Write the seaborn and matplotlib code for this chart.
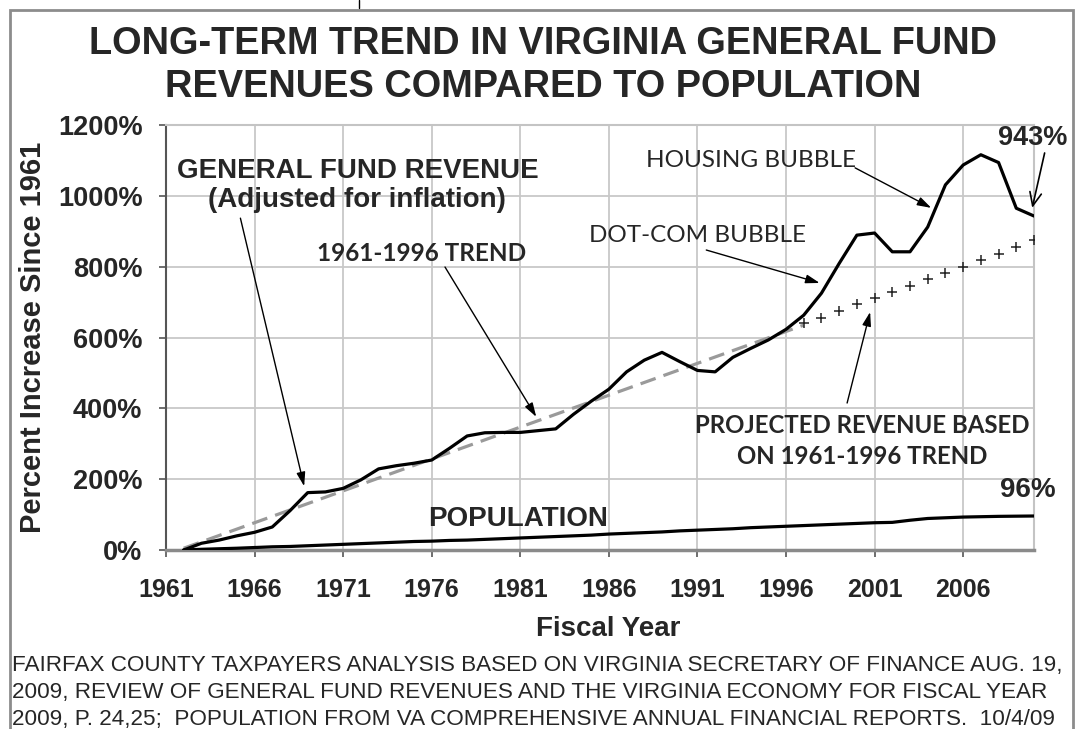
import numpy as np
import pandas as pd
import matplotlib.pyplot as plt
import seaborn as sns
from matplotlib.patches import Rectangle
from matplotlib.lines import Line2D


years = list(range(1961, 2010))

revenue_pct = [0, 19, 28, 40, 50, 65, 111, 162, 164, 174,
               198, 229, 238, 245, 254, 287, 322, 331, 332, 332,
               337, 342, 383, 420, 454, 503, 536, 558, 532, 507,
               503, 544, 569, 593, 623, 663, 725, 809, 889, 895,
               842, 842, 912, 1031, 1087, 1116, 1094, 965, 943]

population_pct = [0, 2, 3.5, 5, 7, 9, 10, 12, 14, 16,
                  18, 20, 22, 24, 25, 27, 28, 30, 32, 34,
                  36, 38, 40, 42, 45, 47, 49, 51, 54, 56,
                  58, 60, 63, 65, 67, 69, 71, 73, 75, 77,
                  78, 84, 89, 91, 93, 94, 95, 95.5, 96]

trend_years = [1961, 1996]
trend_pct = [5, 635]

proj_years = list(range(1996, 2010))
proj_pct = [640, 656, 675, 694, 712, 728, 746, 765, 783, 800, 819, 836, 855, 875]

tick_years = [1961, 1966, 1971, 1976, 1981, 1986, 1991, 1996, 2001, 2006]
y_ticks = [0, 200, 400, 600, 800, 1000, 1200]

W, H = 1079, 729


def pos(yr):
    # data points sit one category to the right of the labelled gridline
    return np.asarray(yr) - 1961 + 1


def fx(x):
    return x / W


def fy(y):
    return 1 - y / H


sns.set_theme(style='white')
plt.rcParams['font.family'] = ['Liberation Sans', 'DejaVu Sans']

fig = plt.figure(figsize=(W / 100, H / 100), dpi=100)
ax = fig.add_axes([fx(166), fy(550), (1034 - 166) / W, (550 - 125) / H])

rev = pd.DataFrame({'pos': pos(years), 'pct': revenue_pct})
popl = pd.DataFrame({'pos': pos(years), 'pct': population_pct})
trend = pd.DataFrame({'pos': pos(trend_years), 'pct': trend_pct})
proj = pd.DataFrame({'pos': pos(proj_years), 'pct': proj_pct})

sns.lineplot(data=trend, x='pos', y='pct', ax=ax, color='#9a9a9a', lw=2.3,
             dashes=False, zorder=3)
ax.lines[-1].set_dashes((5, 2.6))
sns.lineplot(data=popl, x='pos', y='pct', ax=ax, color='black', lw=2.3, zorder=4)
sns.lineplot(data=rev, x='pos', y='pct', ax=ax, color='black', lw=2.3, zorder=5)
sns.scatterplot(data=proj, x='pos', y='pct', ax=ax, marker='+', color='#222222',
                s=45, linewidth=1.1, zorder=4)

ax.set_xlim(0, 49)
ax.set_ylim(0, 1200)
ax.set_xticks(pos(tick_years) - 1)
ax.set_xticklabels([str(y) for y in tick_years], fontsize=18, fontweight='bold')
ax.set_yticks(y_ticks)
ax.set_yticklabels([f'{v}%' for v in y_ticks], fontsize=19.5, fontweight='bold')
ax.tick_params(axis='x', length=5, width=1.2, color='#555555', pad=15, direction='out')
ax.tick_params(axis='y', length=5, width=1.2, color='#555555', pad=12, direction='out')
ax.tick_params(bottom=True, left=True)

ax.grid(True, color='#c8c8c8', lw=1.3)
ax.set_axisbelow(True)
for side in ['top', 'right']:
    ax.spines[side].set_color('#c4c4c4')
    ax.spines[side].set_linewidth(1.5)
ax.spines['left'].set_color('#555555')
ax.spines['left'].set_linewidth(1.5)
ax.spines['bottom'].set_color('#8a8a8a')
ax.spines['bottom'].set_linewidth(2.5)

ax.set_xlabel('')
ax.set_ylabel('')

# titles and axis labels
fig.text(fx(543), fy(44), 'LONG-TERM TREND IN VIRGINIA GENERAL FUND',
         ha='center', va='center', fontsize=27.4, fontweight='bold')
fig.text(fx(543), fy(87), 'REVENUES COMPARED TO POPULATION',
         ha='center', va='center', fontsize=27.4, fontweight='bold')
fig.text(fx(33), fy(337), 'Percent Increase Since 1961', rotation=90,
         ha='center', va='center', fontsize=21, fontweight='bold')
fig.text(fx(608), fy(629), 'Fiscal Year', ha='center', va='center',
         fontsize=20, fontweight='bold')

footer = ['FAIRFAX COUNTY TAXPAYERS ANALYSIS BASED ON VIRGINIA SECRETARY OF FINANCE AUG. 19,',
          '2009, REVIEW OF GENERAL FUND REVENUES AND THE VIRGINIA ECONOMY FOR FISCAL YEAR',
          '2009, P. 24,25;  POPULATION FROM VA COMPREHENSIVE ANNUAL FINANCIAL REPORTS.  10/4/09']
for k, line in enumerate(footer):
    fig.text(fx(12), fy(666 + 26.5 * k), line, ha='left', va='center',
             fontsize=16.2)

# annotations (data coords)
arrow = dict(arrowstyle='-|>,head_length=0.7,head_width=0.22', color='black', lw=1.0,
             shrinkA=0, shrinkB=0)
calibri = ['Lato', 'DejaVu Sans']

ax.text(10.8, 1030, 'GENERAL FUND REVENUE\n(Adjusted for inflation)', ha='center',
        va='center', fontsize=20, fontweight='bold', linespacing=1.15)
ax.annotate('', xy=(7.8, 180), xytext=(4.2, 937), arrowprops=arrow)

ax.text(14.45, 838, '1961-1996 TREND', ha='center', va='center', fontsize=17.5,
        fontweight='bold', family=calibri)
ax.annotate('', xy=(20.9, 376), xytext=(15.75, 799), arrowprops=arrow)

ax.text(30.0, 889, 'DOT-COM BUBBLE', ha='center', va='center', fontsize=17.5,
        family=calibri)
ax.annotate('', xy=(36.9, 754), xytext=(30.5, 847), arrowprops=arrow)

ax.text(33.0, 1101, 'HOUSING BUBBLE', ha='center', va='center', fontsize=17.5,
        family=calibri)
ax.annotate('', xy=(43.2, 966), xytext=(38.9, 1079), arrowprops=arrow)

ax.text(48.9, 1163, '943%', ha='center', va='center', fontsize=19.5,
        fontweight='bold', clip_on=False)
ax.annotate('', xy=(48.9, 966), xytext=(49.6, 1121), annotation_clip=False,
            arrowprops=dict(arrowstyle='->,head_length=0.8,head_width=0.35',
                            color='black', lw=1.2, shrinkA=0, shrinkB=0))

ax.text(39.3, 308, 'PROJECTED REVENUE BASED\nON 1961-1996 TREND', ha='center',
        va='center', fontsize=17.3, fontweight='bold', family=calibri, linespacing=1.4)
ax.annotate('', xy=(39.75, 672), xytext=(38.45, 415), arrowprops=arrow)

ax.text(48.65, 169, '96%', ha='center', va='center', fontsize=20,
        fontweight='bold', clip_on=False)
ax.text(19.9, 88, 'POPULATION', ha='center', va='center', fontsize=20,
        fontweight='bold')

# outer frame like the scanned slide
fig.add_artist(Rectangle((fx(10), -0.05), fx(1073) - fx(10), fy(10) + 0.05,
                         transform=fig.transFigure, fill=False,
                         edgecolor='#8c8c8c', lw=2))
fig.add_artist(Line2D([fx(359), fx(359)], [1, fy(8)], transform=fig.transFigure,
                      color='black', lw=1))

fig.savefig('out.png', dpi=100, facecolor='white')
